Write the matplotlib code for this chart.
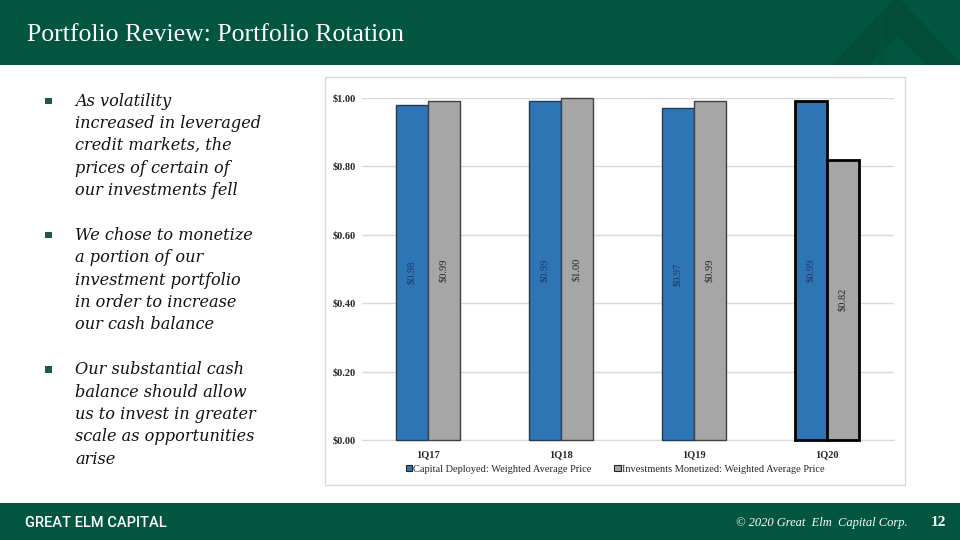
import matplotlib
matplotlib.use("Agg")
import matplotlib.pyplot as plt
import numpy as np
from matplotlib.patches import Rectangle, Polygon

GREEN = "#02563F"
GREEN_DARK = "#024C38"
BLUE = "#2E75B6"
GRAY = "#A6A6A6"
GRID = "#D9D9D9"
SERIF = ["Liberation Serif", "DejaVu Serif"]

quarters = ["1Q17", "1Q18", "1Q19", "1Q20"]
deployed = [0.98, 0.99, 0.97, 0.99]
monetized = [0.99, 1.00, 0.99, 0.82]
yticks = [0.0, 0.2, 0.4, 0.6, 0.8, 1.0]
series_names = ["Capital Deployed: Weighted Average Price",
                "Investments Monetized: Weighted Average Price"]

bullets = [
    ["As volatility", "increased in leveraged", "credit markets, the",
     "prices of certain of", "our investments fell"],
    ["We chose to monetize", "a portion of our", "investment portfolio",
     "in order to increase", "our cash balance"],
    ["Our substantial cash", "balance should allow", "us to invest in greater",
     "scale as opportunities", "arise"],
]

W, H = 960, 540
fig = plt.figure(figsize=(9.6, 5.4), dpi=100)
fig.patch.set_facecolor("white")

# page overlay in pixel coordinates
bg = fig.add_axes([0, 0, 1, 1])
bg.set_xlim(0, W)
bg.set_ylim(H, 0)
bg.axis("off")

# header band + faint logo
bg.add_patch(Rectangle((0, 0), W, 65, color=GREEN, lw=0))
bg.add_patch(Polygon([(832, 65), (897, -4), (962, 65)], closed=True, color=GREEN_DARK, lw=0))
bg.add_patch(Polygon([(868, 65), (897, 36), (926, 65)], closed=True, color=GREEN, lw=0))
bg.add_patch(Polygon([(879, 65), (879, 18), (884, 13), (884, 65)], closed=True, color="#02513B", lw=0))
bg.text(27, 35, "Portfolio Review: Portfolio Rotation", color="white",
        fontsize=18.5, family=SERIF, ha="left", va="center")

# footer band
bg.add_patch(Rectangle((0, 503), W, 37, color=GREEN, lw=0))
bg.text(25, 523, "GREAT ELM CAPITAL", color="white", fontsize=10.5,
        family=["Roboto", "DejaVu Sans"], fontweight="medium", ha="left", va="center")
bg.text(908, 523, "\u00a9 2020 Great  Elm  Capital Corp.", color="white", fontsize=9,
        family=SERIF, style="italic", ha="right", va="center")
bg.text(938, 523, "12", color="white", fontsize=11, family=SERIF, fontweight="bold",
        ha="center", va="center")

# bullets
y = 101
for block in bullets:
    bg.add_patch(Rectangle((45, y - 3.5), 6.5, 6.5, color="#1E5A46", lw=0))
    for line in block:
        bg.text(75, y, line, fontsize=11.6, family=["DejaVu Serif"], style="italic",
                color="#111111", ha="left", va="center")
        y += 22.4
    y += 22.4

# chart frame
bg.add_patch(Rectangle((325, 77), 580, 408, fill=False, ec=GRID, lw=1))

# chart axes
left, right, top, bottom = 361.5, 893.5, 98, 440
ax = fig.add_axes([left / W, (H - bottom) / H, (right - left) / W, (bottom - top) / H])
ax.set_facecolor("none")
x = np.arange(len(quarters))
bw = 0.24
edge_w = [1.0, 1.0, 1.0, 2.0]
blue_edge = ["#1F3A5A", "#1F3A5A", "#1F3A5A", "#000000"]
gray_edge = ["#404040", "#404040", "#404040", "#000000"]
b1 = ax.bar(x - bw / 2, deployed, bw, color=BLUE, edgecolor=blue_edge,
            linewidth=edge_w, zorder=3, clip_on=False, label=series_names[0])
b2 = ax.bar(x + bw / 2, monetized, bw, color=GRAY, edgecolor=gray_edge,
            linewidth=edge_w, zorder=3, clip_on=False, label=series_names[1])

for i in range(len(quarters)):
    ax.text(x[i] - bw / 2, deployed[i] / 2, f"${deployed[i]:.2f}", rotation=90,
            ha="center", va="center", fontsize=7.5, family=SERIF, color="#1F3864", zorder=4)
    ax.text(x[i] + bw / 2, monetized[i] / 2, f"${monetized[i]:.2f}", rotation=90,
            ha="center", va="center", fontsize=7.5, family=SERIF, color="#262626", zorder=4)

ax.set_xlim(-0.5, len(quarters) - 0.5)
ax.set_ylim(0, 1.0)
ax.set_yticks(yticks)
ax.set_yticklabels([f"${v:.2f}" for v in yticks])
ax.set_xticks(x)
ax.set_xticklabels(quarters)
ax.grid(axis="y", color=GRID, lw=1, zorder=0)
for s in ["top", "right", "left"]:
    ax.spines[s].set_visible(False)
ax.spines["bottom"].set_color(GRID)
ax.tick_params(length=0, pad=4)
for lab in ax.get_yticklabels() + ax.get_xticklabels():
    lab.set_family(SERIF)
    lab.set_fontweight("bold")
    lab.set_fontsize(7.5)
    lab.set_color("#262626")
ax.tick_params(axis="x", pad=7)

leg = fig.legend(handles=[b1, b2], loc="center", bbox_to_anchor=(615 / W, (H - 469) / H),
                 ncol=2, frameon=False, handlelength=0.6, handleheight=0.6,
                 handletextpad=0.1, columnspacing=2.2,
                 prop={"family": SERIF, "size": 7.5})
for t in leg.get_texts():
    t.set_color("#262626")
for h in leg.legend_handles:
    h.set_linewidth(0.8)
    h.set_edgecolor("#262626")

fig.savefig("out.png", dpi=100)
